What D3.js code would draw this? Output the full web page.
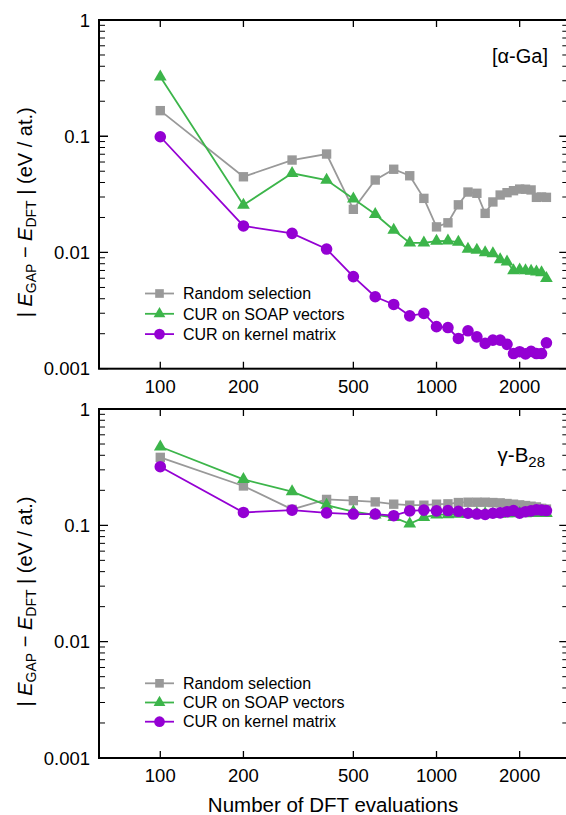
<!DOCTYPE html>
<html lang="en">
<head>
    <meta charset="UTF-8">
    <title>GAP error vs number of DFT evaluations</title>
    <script src="https://d3js.org/d3.v7.min.js"></script>
    <style>
        body { margin: 0; background: #fff; }
        svg text { font-family: "Liberation Sans", Arial, Helvetica, sans-serif; fill: #000; }
    </style>
</head>
<body>
    <svg id="chart" width="566" height="815"></svg>
    <script>
        // number of DFT evaluations (training set size)
        const nEvals = [100, 200, 300, 400, 500, 600, 700, 800, 900, 1000, 1100, 1200, 1300,
                        1400, 1500, 1600, 1700, 1800, 1900, 2000, 2100, 2200, 2300, 2400, 2500];

        // alpha-Ga panel (eV / at.)
        const gaRandom = [0.166, 0.0448, 0.0624, 0.0703, 0.0235, 0.042, 0.052, 0.0457, 0.0292, 0.0166,
                          0.018, 0.0257, 0.0331, 0.0323, 0.0217, 0.0272, 0.0312, 0.0327, 0.034, 0.0351,
                          0.035, 0.0345, 0.0298, 0.030, 0.0298];
        const gaSoap = [0.325, 0.0256, 0.048, 0.042, 0.029, 0.0213, 0.0156, 0.0121, 0.0121, 0.0125,
                        0.0126, 0.0123, 0.0107, 0.0105, 0.0100, 0.0098, 0.0087, 0.0083, 0.0070, 0.0071,
                        0.0070, 0.0069, 0.0068, 0.0067, 0.0060];
        const gaKernel = [0.099, 0.0169, 0.0146, 0.0107, 0.0062, 0.00416, 0.00357, 0.00285, 0.00299, 0.0023,
                          0.00226, 0.00182, 0.00212, 0.00188, 0.00165, 0.00176, 0.00176, 0.00162, 0.00135, 0.0014,
                          0.00134, 0.00141, 0.00135, 0.00135, 0.00167];

        // gamma-B28 panel (eV / at.)
        const bRandom = [0.384, 0.218, 0.137, 0.167, 0.163, 0.159, 0.152, 0.149, 0.149, 0.152,
                         0.153, 0.157, 0.158, 0.158, 0.158, 0.157, 0.156, 0.154, 0.152, 0.150,
                         0.148, 0.146, 0.144, 0.140, 0.138];
        const bSoap = [0.474, 0.248, 0.195, 0.149, 0.131, 0.123, 0.117, 0.103, 0.117, 0.123,
                       0.124, 0.125, 0.125, 0.126, 0.126, 0.125, 0.125, 0.126, 0.126, 0.127,
                       0.126, 0.127, 0.127, 0.127, 0.127];
        const bKernel = [0.319, 0.129, 0.135, 0.128, 0.125, 0.125, 0.121, 0.133, 0.135, 0.133,
                         0.134, 0.132, 0.127, 0.125, 0.124, 0.127, 0.128, 0.131, 0.134, 0.127,
                         0.131, 0.133, 0.136, 0.135, 0.134];

        const seriesNames = ["Random selection", "CUR on SOAP vectors", "CUR on kernel matrix"];
        const xTickValues = [100, 200, 500, 1000, 2000];
        const yTickValues = [1, 0.1, 0.01, 0.001];
        const yTickLabels = ["1", "0.1", "0.01", "0.001"];

        const colors = ["#999999", "#3cb54a", "#9400d3"];
        const shapes = [d3.symbolSquare, d3.symbolTriangle, d3.symbolCircle];
        const sizes = [88, 70, 106];

        const svg = d3.select("#chart");

        // shared x scale (log)
        const x = d3.scaleLog().domain([60, 3000]).range([99, 568.3]);

        function drawPanel(top, bottom, series, tag, legendTop, legendStep) {
            const y = d3.scaleLog().domain([0.001, 1]).range([bottom, top]);
            const g = svg.append("g");

            // minor ticks on y (left + right)
            const minors = [];
            for (const dec of [0.001, 0.01, 0.1]) {
                for (let k = 2; k <= 9; k++) minors.push(dec * k);
            }
            g.selectAll(".yminor").data(minors).enter().append("path")
                .attr("d", d => `M${x.range()[0]},${y(d)}h6M${x.range()[1]},${y(d)}h-6`)
                .attr("stroke", "#000").attr("stroke-width", 1);
            g.selectAll(".ymajor").data(yTickValues).enter().append("path")
                .attr("d", d => `M${x.range()[0]},${y(d)}h9M${x.range()[1]},${y(d)}h-9`)
                .attr("stroke", "#000").attr("stroke-width", 1.3);
            g.selectAll(".xmajor").data(xTickValues).enter().append("path")
                .attr("d", d => `M${x(d)},${bottom}v-7M${x(d)},${top}v7`)
                .attr("stroke", "#000").attr("stroke-width", 1.3);

            // frame
            g.append("rect")
                .attr("x", x.range()[0]).attr("y", top)
                .attr("width", x.range()[1] - x.range()[0]).attr("height", bottom - top)
                .attr("fill", "none").attr("stroke", "#000").attr("stroke-width", 2);

            // tick labels
            g.selectAll(".ylab").data(yTickValues).enter().append("text")
                .attr("x", 90).attr("y", d => y(d)).attr("dy", "0.36em")
                .attr("text-anchor", "end").attr("font-size", 18.5)
                .text((d, i) => yTickLabels[i]);
            g.selectAll(".xlab").data(xTickValues).enter().append("text")
                .attr("x", d => x(d)).attr("y", bottom + 24)
                .attr("text-anchor", "middle").attr("font-size", 18.5)
                .text(d => d);

            // y title
            const yt = g.append("text")
                .attr("transform", `translate(32,${(top + bottom) / 2 + 18}) rotate(-90)`)
                .attr("text-anchor", "middle").attr("font-size", 20);
            yt.append("tspan").text("| ");
            yt.append("tspan").attr("font-style", "italic").text("E");
            yt.append("tspan").attr("font-size", 14).attr("dy", 4).text("GAP");
            yt.append("tspan").attr("dy", -4).text(" \u2212 ");
            yt.append("tspan").attr("font-style", "italic").text("E");
            yt.append("tspan").attr("font-size", 14).attr("dy", 4).text("DFT");
            yt.append("tspan").attr("dy", -4).text(" | (eV / at.)");

            // series
            const line = d3.line().x(d => x(d[0])).y(d => y(d[1]));
            series.forEach((vals, i) => {
                const pts = nEvals.map((n, j) => [n, vals[j]]);
                g.append("path").datum(pts)
                    .attr("fill", "none").attr("stroke", colors[i]).attr("stroke-width", 1.8)
                    .attr("d", line);
                g.selectAll(".m" + i).data(pts).enter().append("path")
                    .attr("transform", d => `translate(${x(d[0])},${y(d[1])})`)
                    .attr("d", d3.symbol().type(shapes[i]).size(sizes[i]))
                    .attr("fill", colors[i]);
            });

            // legend
            seriesNames.forEach((name, i) => {
                const ly = legendTop + i * legendStep;
                g.append("line").attr("x1", 145).attr("x2", 174).attr("y1", ly).attr("y2", ly)
                    .attr("stroke", colors[i]).attr("stroke-width", 1.8);
                g.append("path").attr("transform", `translate(159.5,${ly})`)
                    .attr("d", d3.symbol().type(shapes[i]).size(sizes[i] * 0.85))
                    .attr("fill", colors[i]);
                g.append("text").attr("x", 183).attr("y", ly).attr("dy", "0.36em")
                    .attr("font-size", 16).text(name);
            });

            return g;
        }

        const g1 = drawPanel(20, 368.7, [gaRandom, gaSoap, gaKernel], "ga", 293.5, 20.3);
        g1.append("text").attr("x", 548).attr("y", 63).attr("text-anchor", "end")
            .attr("font-size", 20).text("[\u03b1-Ga]");

        const g2 = drawPanel(409, 758, [bRandom, bSoap, bKernel], "b", 683.3, 19.2);
        const bt = g2.append("text").attr("x", 545).attr("y", 462).attr("text-anchor", "end")
            .attr("font-size", 20.5);
        bt.append("tspan").text("\u03b3-B");
        bt.append("tspan").attr("font-size", 15).attr("dy", 5).text("28");

        svg.append("text").attr("x", 333).attr("y", 812).attr("text-anchor", "middle")
            .attr("font-size", 20.5).text("Number of DFT evaluations");
    </script>
</body>
</html>
